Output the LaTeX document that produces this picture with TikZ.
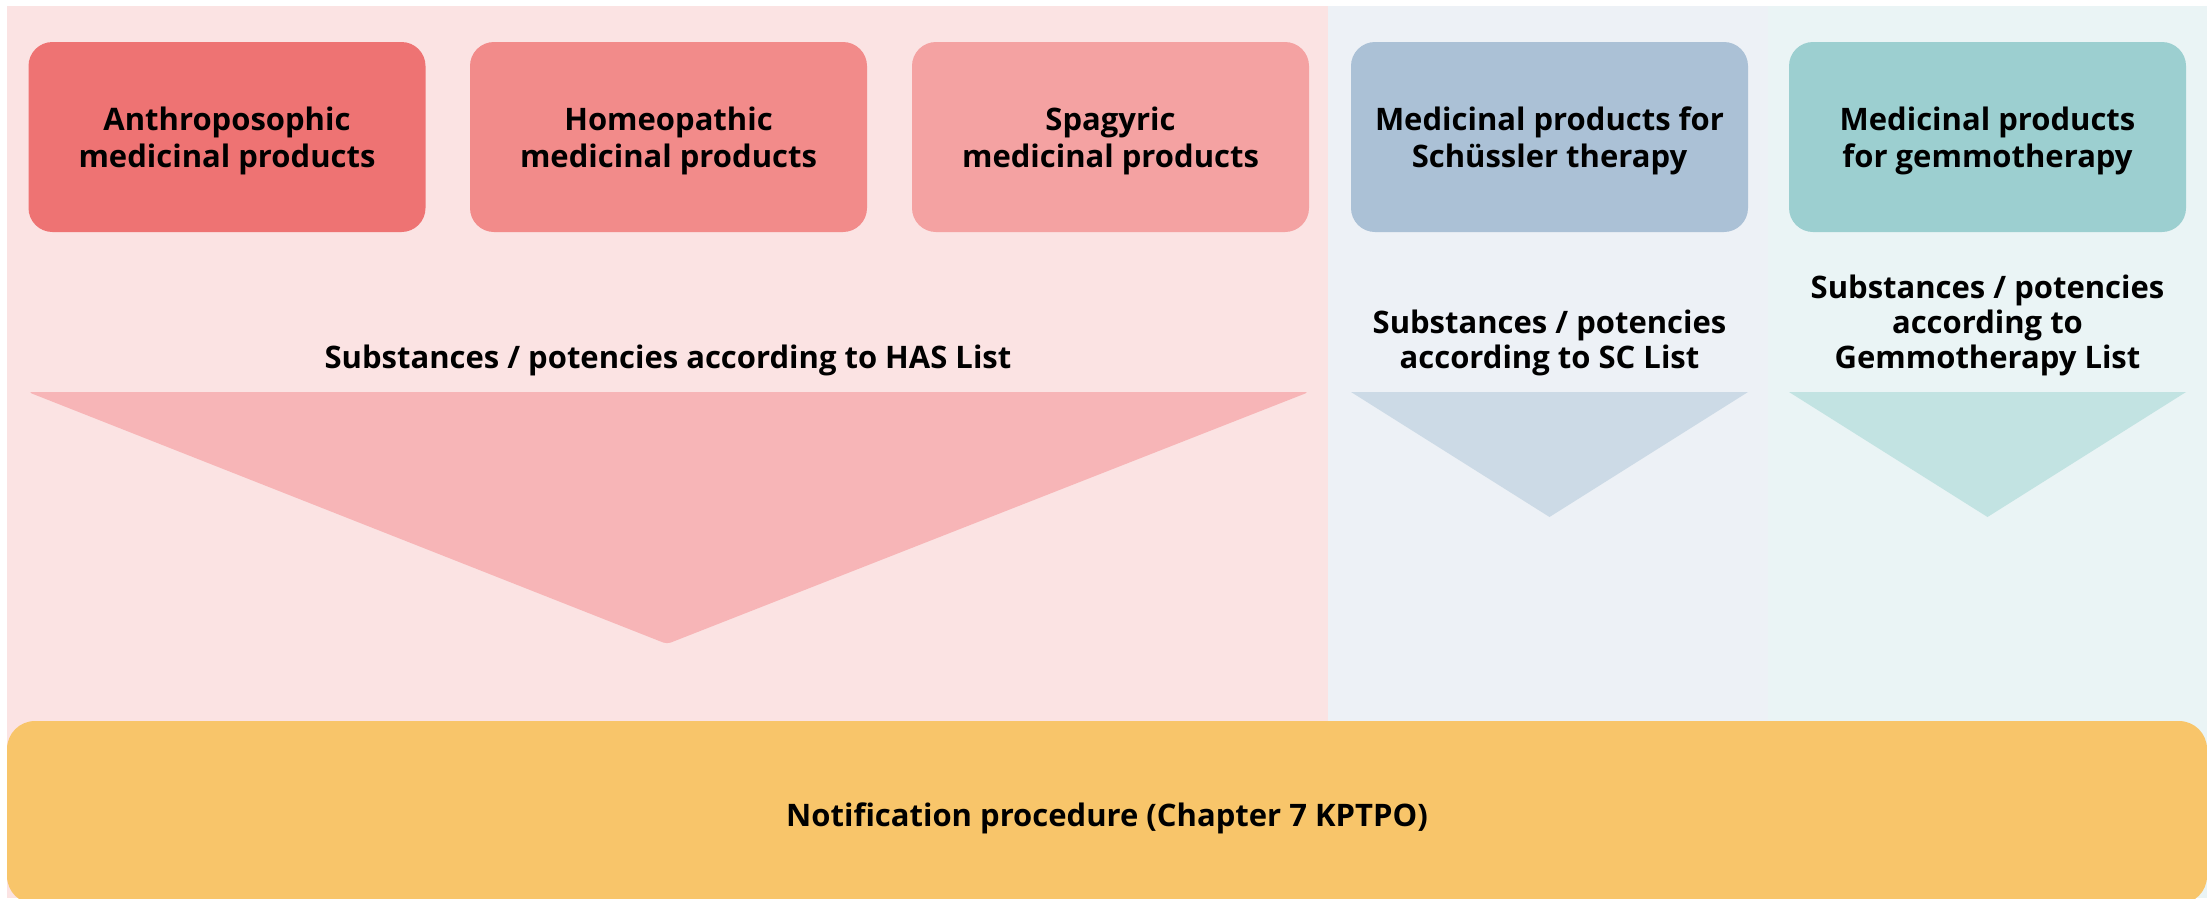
\documentclass[tikz,border=0pt]{standalone}
\usepackage{fontspec}
\setmainfont{Open Sans}
\definecolor{pinkbg}{HTML}{FBE3E3}
\definecolor{bluebg}{HTML}{EDF1F6}
\definecolor{tealbg}{HTML}{EAF4F5}
\definecolor{boxA}{HTML}{EE7373}
\definecolor{boxB}{HTML}{F28B8A}
\definecolor{boxC}{HTML}{F4A2A2}
\definecolor{boxD}{HTML}{ABC1D6}
\definecolor{boxE}{HTML}{9CCFD0}
\definecolor{triP}{HTML}{F7B5B7}
\definecolor{triB}{HTML}{CCDAE6}
\definecolor{triT}{HTML}{C2E3E2}
\definecolor{notif}{HTML}{F8C56A}
\tikzset{
  prodbox/.style={minimum width=397pt, minimum height=190pt, inner sep=0pt,
    rounded corners=24pt, text=black},
  boxtext/.style={align=center, inner sep=0pt, text=black,
    font=\fontsize{31}{37}\selectfont\bfseries},
  listtext/.style={align=center, inner sep=0pt, text=black,
    font=\fontsize{31}{35}\selectfont\bfseries},
}
\begin{document}
\begin{tikzpicture}[x=1pt,y=-1pt]
\useasboundingbox (0,0) rectangle (2207,898);
\clip (0,0) rectangle (2207,898);
\fill[white] (0,0) rectangle (2207,898);
% panels
\fill[pinkbg] (7,6) rectangle (1328,898);
\fill[bluebg] (1328,6) rectangle (1768,898);
\fill[tealbg] (1768,6) rectangle (2207,898);
% product boxes
\node[prodbox, fill=boxA] (anth) at (227,137) {};
\node[prodbox, fill=boxB] (homeo) at (668.5,137) {};
\node[prodbox, fill=boxC] (spag) at (1110.5,137) {};
\node[prodbox, fill=boxD] (schu) at (1549.5,137) {};
\node[prodbox, fill=boxE] (gemm) at (1987.5,137) {};
\node[boxtext, anchor=base] (anthT) at ([yshift=-30pt]anth.center) {Anthroposophic\\medicinal products};
\node[boxtext, anchor=base] (homeoT) at ([yshift=-30pt]homeo.center) {Homeopathic\\medicinal products};
\node[boxtext, anchor=base] (spagT) at ([yshift=-30pt]spag.center) {Spagyric\\medicinal products};
\node[boxtext, anchor=base] (schuT) at ([yshift=-30pt]schu.center) {Medicinal products for\\Schüssler therapy};
\node[boxtext, anchor=base] (gemmT) at ([yshift=-30pt]gemm.center) {Medicinal products\\for gemmotherapy};
% triangles
\coordinate (pL) at (28,392); \coordinate (pR) at (1309,392); \coordinate (pA) at (667,644);
\fill[triP, rounded corners=4pt] (pL) -- (pR) -- (pA) -- cycle;
\coordinate (bL) at (1351,392); \coordinate (bR) at (1748,392); \coordinate (bA) at (1549.5,517);
\fill[triB] (bL) -- (bR) -- (bA) -- cycle;
\coordinate (tL) at (1789,392); \coordinate (tR) at (2186,392); \coordinate (tA) at (1987.5,517);
\fill[triT] (tL) -- (tR) -- (tA) -- cycle;
% list texts (base = baseline of last line)
\node[listtext, anchor=base] (has) at (668,368) {Substances / potencies according to HAS List};
\node[listtext, anchor=base] (sc) at (1549.5,368) {Substances / potencies\\according to SC List};
\node[listtext, anchor=base] (gl) at (1987.5,368) {Substances / potencies\\according to\\Gemmotherapy List};
% notification bar
\fill[notif, rounded corners=28pt] (7,721) rectangle (2207,904);
\node[listtext, anchor=base] (notification) at (1107,826) {Notification procedure (Chapter 7 KPTPO)};
\end{tikzpicture}
\end{document}
